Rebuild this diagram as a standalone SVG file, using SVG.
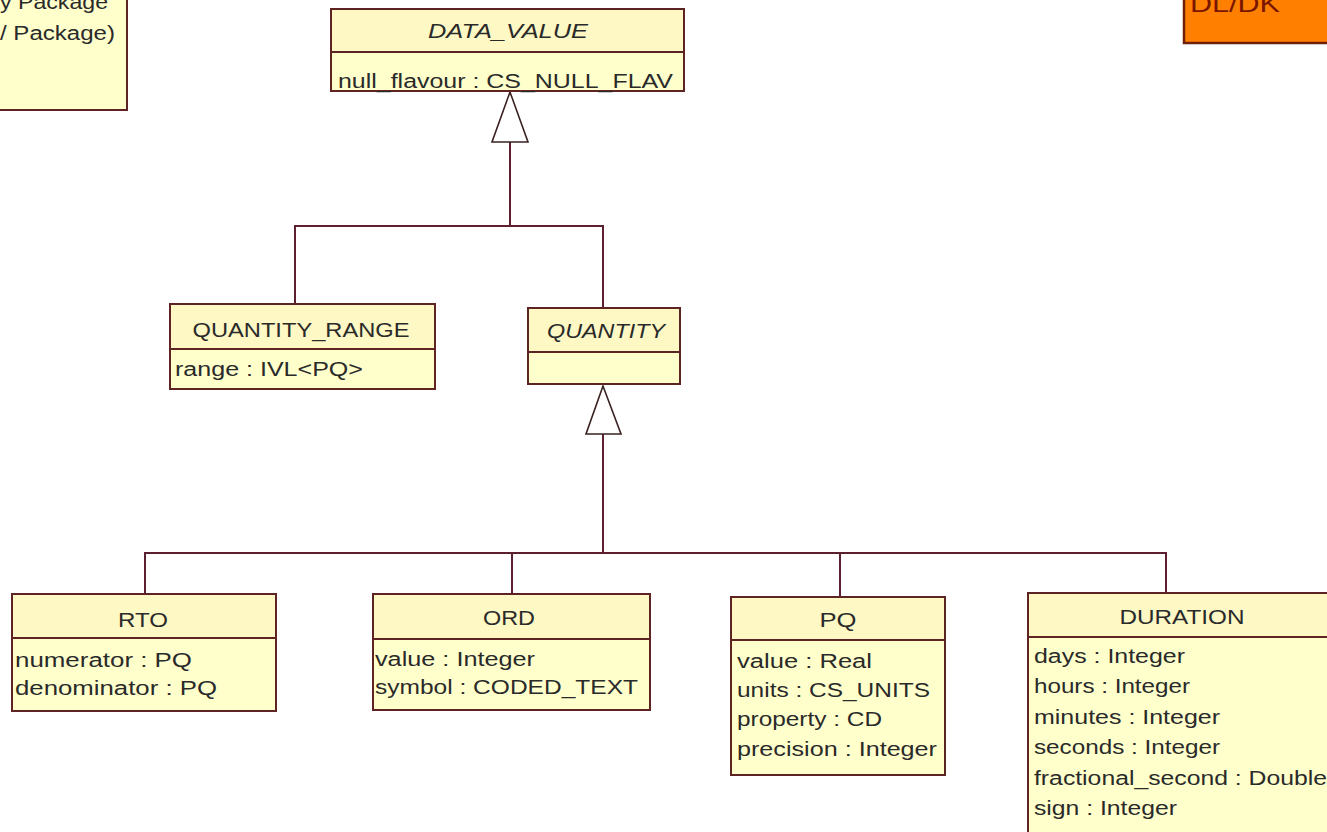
<svg xmlns="http://www.w3.org/2000/svg" width="1327" height="832" viewBox="0 0 1327 832">
<style>
.box{fill:#ffffcc;stroke:#5e2424;stroke-width:2}
.hdr{fill:#fdf8c4;stroke:#5e2424;stroke-width:2}
.div{stroke:#5e2424;stroke-width:2}
.t{font-family:"Liberation Sans",Arial,sans-serif;font-size:20px;fill:#2a2a2a}
.c{text-anchor:middle}
.i{font-style:italic}
.con{fill:none;stroke:#5e2030;stroke-width:2}
.tri{fill:#ffffff;stroke:#3a2020;stroke-width:1.6}
</style>
<rect width="1327" height="832" fill="#ffffff"/>

<g id="note">
<rect x="-2" y="-2" width="129" height="112" class="box"/>
<text class="t" x="108" y="9" text-anchor="end" textLength="108" lengthAdjust="spacingAndGlyphs">y Package</text>
<text class="t" x="115" y="40" text-anchor="end" textLength="115" lengthAdjust="spacingAndGlyphs">/ Package)</text>
</g>

<g id="dldk">
<rect x="1184" y="-4" width="150" height="47" fill="#ff8000" stroke="#6e2008" stroke-width="2.5"/>
<text x="1190" y="12" font-family="Liberation Sans,Arial,sans-serif" font-size="24" fill="#7a1500" textLength="90" lengthAdjust="spacingAndGlyphs">DL/DK</text>
</g>

<g id="connectors">
<polyline class="con" points="510,142 510,226"/>
<polyline class="con" points="295,304 295,226 603,226 603,308"/>
<polygon class="tri" points="510,92 492,142 528,142"/>
<polyline class="con" points="603,434 603,553"/>
<polyline class="con" points="145,594 145,553 1166,553 1166,593"/>
<polyline class="con" points="512,553 512,594"/>
<polyline class="con" points="840,553 840,597"/>
<polygon class="tri" points="603,386 586,434 621,434"/>
</g>

<g id="data_value">
<rect x="331" y="9" width="353" height="82" class="box"/>
<rect x="331" y="9" width="353" height="43" class="hdr"/>
<text class="t c i" x="508" y="38" textLength="160" lengthAdjust="spacingAndGlyphs">DATA_VALUE</text>
<text class="t" x="338" y="88" textLength="335" lengthAdjust="spacingAndGlyphs">null_flavour : CS_NULL_FLAV</text>
</g>

<g id="quantity_range">
<rect x="170" y="304" width="265" height="85" class="box"/>
<rect x="170" y="304" width="265" height="45" class="hdr"/>
<text class="t c" x="301" y="337" textLength="217" lengthAdjust="spacingAndGlyphs">QUANTITY_RANGE</text>
<text class="t" x="175" y="376" textLength="188" lengthAdjust="spacingAndGlyphs">range : IVL&lt;PQ&gt;</text>
</g>

<g id="quantity">
<rect x="528" y="308" width="152" height="76" class="box"/>
<rect x="528" y="308" width="152" height="44" class="hdr"/>
<text class="t c i" x="606" y="338" textLength="118" lengthAdjust="spacingAndGlyphs">QUANTITY</text>
</g>

<g id="rto">
<rect x="12" y="594" width="264" height="117" class="box"/>
<rect x="12" y="594" width="264" height="44" class="hdr"/>
<text class="t c" x="143" y="627" textLength="50" lengthAdjust="spacingAndGlyphs">RTO</text>
<text class="t" x="15" y="667" textLength="177" lengthAdjust="spacingAndGlyphs">numerator : PQ</text>
<text class="t" x="15" y="695" textLength="202" lengthAdjust="spacingAndGlyphs">denominator : PQ</text>
</g>

<g id="ord">
<rect x="373" y="594" width="277" height="116" class="box"/>
<rect x="373" y="594" width="277" height="45" class="hdr"/>
<text class="t c" x="509" y="625" textLength="52" lengthAdjust="spacingAndGlyphs">ORD</text>
<text class="t" x="375" y="666" textLength="160" lengthAdjust="spacingAndGlyphs">value : Integer</text>
<text class="t" x="375" y="694" textLength="263" lengthAdjust="spacingAndGlyphs">symbol : CODED_TEXT</text>
</g>

<g id="pq">
<rect x="731" y="597" width="214" height="178" class="box"/>
<rect x="731" y="597" width="214" height="43" class="hdr"/>
<text class="t c" x="838" y="627" textLength="37" lengthAdjust="spacingAndGlyphs">PQ</text>
<text class="t" x="737" y="668" textLength="135" lengthAdjust="spacingAndGlyphs">value : Real</text>
<text class="t" x="737" y="697" textLength="193" lengthAdjust="spacingAndGlyphs">units : CS_UNITS</text>
<text class="t" x="737" y="726" textLength="145" lengthAdjust="spacingAndGlyphs">property : CD</text>
<text class="t" x="737" y="756" textLength="200" lengthAdjust="spacingAndGlyphs">precision : Integer</text>
</g>

<g id="duration">
<rect x="1028" y="593" width="310" height="250" class="box"/>
<rect x="1028" y="593" width="310" height="44" class="hdr"/>
<text class="t c" x="1182" y="624" textLength="125" lengthAdjust="spacingAndGlyphs">DURATION</text>
<text class="t" x="1034" y="663" textLength="151" lengthAdjust="spacingAndGlyphs">days : Integer</text>
<text class="t" x="1034" y="693" textLength="156" lengthAdjust="spacingAndGlyphs">hours : Integer</text>
<text class="t" x="1034" y="724" textLength="186" lengthAdjust="spacingAndGlyphs">minutes : Integer</text>
<text class="t" x="1034" y="754" textLength="186" lengthAdjust="spacingAndGlyphs">seconds : Integer</text>
<text class="t" x="1034" y="785" textLength="293" lengthAdjust="spacingAndGlyphs">fractional_second : Double</text>
<text class="t" x="1034" y="815" textLength="143" lengthAdjust="spacingAndGlyphs">sign : Integer</text>
</g>
</svg>
